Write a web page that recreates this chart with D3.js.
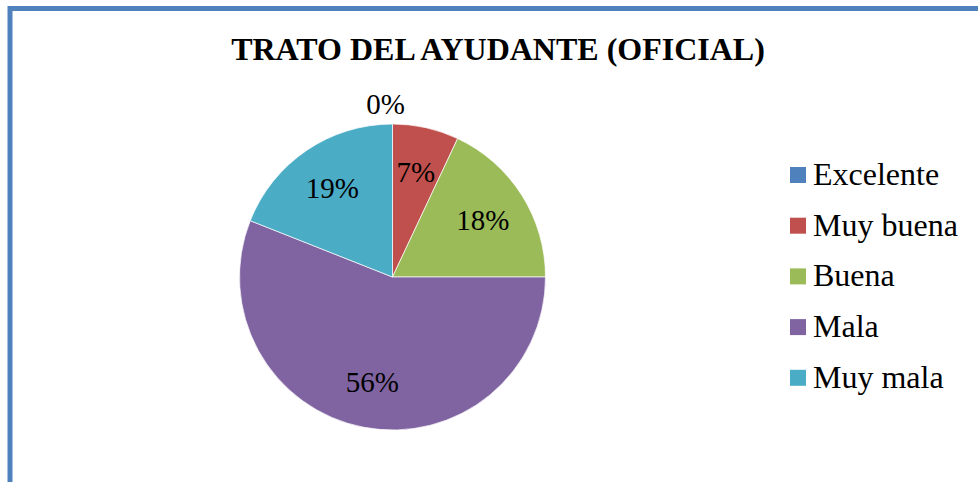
<!DOCTYPE html>
<meta charset="utf-8">
<title>Trato del ayudante (oficial)</title>
<style>
  body { margin: 0; background: #fff; }
  text { font-family: "Liberation Serif", "Times New Roman", serif; fill: #000; }
</style>
<body>
<div id="chart"></div>
<script src="https://d3js.org/d3.v7.min.js"></script>
<script>
// data (percent)
var categories = ["Excelente", "Muy buena", "Buena", "Mala", "Muy mala"];
var values = [0, 7, 18, 56, 19];
var colors = ["#4F81BD", "#C0504D", "#9BBB59", "#8064A2", "#4BACC6"];
var title = "TRATO DEL AYUDANTE (OFICIAL)";

var width = 978, height = 482;
var cx = 392.5, cy = 277, radius = 153;

var svg = d3.select("#chart")
  .append("svg")
    .attr("width", width)
    .attr("height", height);

// frame, runs off the right and bottom edge like the original
svg.append("rect")
  .attr("x", 10)
  .attr("y", 8.5)
  .attr("width", width + 20)
  .attr("height", height + 20)
  .attr("fill", "none")
  .attr("stroke", "#4F81BD")
  .attr("stroke-width", 5);

svg.append("text")
  .attr("x", 498)
  .attr("y", 60)
  .attr("text-anchor", "middle")
  .style("font-size", "32px")
  .style("font-weight", "bold")
  .text(title);

var data = categories.map(function(c, i) { return {name: c, value: values[i], color: colors[i]}; });

var pie = d3.pie()
  .sort(null)
  .value(function(d) { return d.value; });

var arc = d3.arc().innerRadius(0).outerRadius(radius);
var labelArc = d3.arc().innerRadius(radius * 0.7).outerRadius(radius * 0.7);

var g = svg.append("g")
  .attr("transform", "translate(" + cx + "," + cy + ")");

var arcs = pie(data);

g.selectAll("path")
  .data(arcs)
  .enter()
  .append("path")
    .attr("d", arc)
    .attr("fill", function(d) { return d.data.color; })
    .attr("stroke", "#fff")
    .attr("stroke-width", 0.7);

// percentage labels; empty slices get their label outside the pie
g.selectAll("text.pct")
  .data(arcs)
  .enter()
  .append("text")
    .attr("class", "pct")
    .attr("transform", function(d) {
      var p;
      if (d.data.value === 0) {
        var a = d.startAngle;
        p = [Math.sin(a) * (radius + 20) - 7, -Math.cos(a) * (radius + 20)];
      } else {
        p = labelArc.centroid(d);
      }
      return "translate(" + p[0] + "," + p[1] + ")";
    })
    .attr("text-anchor", "middle")
    .attr("dominant-baseline", "central")
    .style("font-size", "29px")
    .text(function(d) { return d.data.value + "%"; });

// legend
var legend = svg.append("g")
  .attr("transform", "translate(790,175)");

var item = legend.selectAll("g")
  .data(data)
  .enter()
  .append("g")
    .attr("transform", function(d, i) { return "translate(0," + (i * 50.7) + ")"; });

item.append("rect")
  .attr("x", 0)
  .attr("y", -8)
  .attr("width", 16)
  .attr("height", 16)
  .attr("fill", function(d) { return d.color; });

item.append("text")
  .attr("x", 23)
  .attr("y", 10)
  .style("font-size", "32px")
  .text(function(d) { return d.name; });
</script>
</body>
